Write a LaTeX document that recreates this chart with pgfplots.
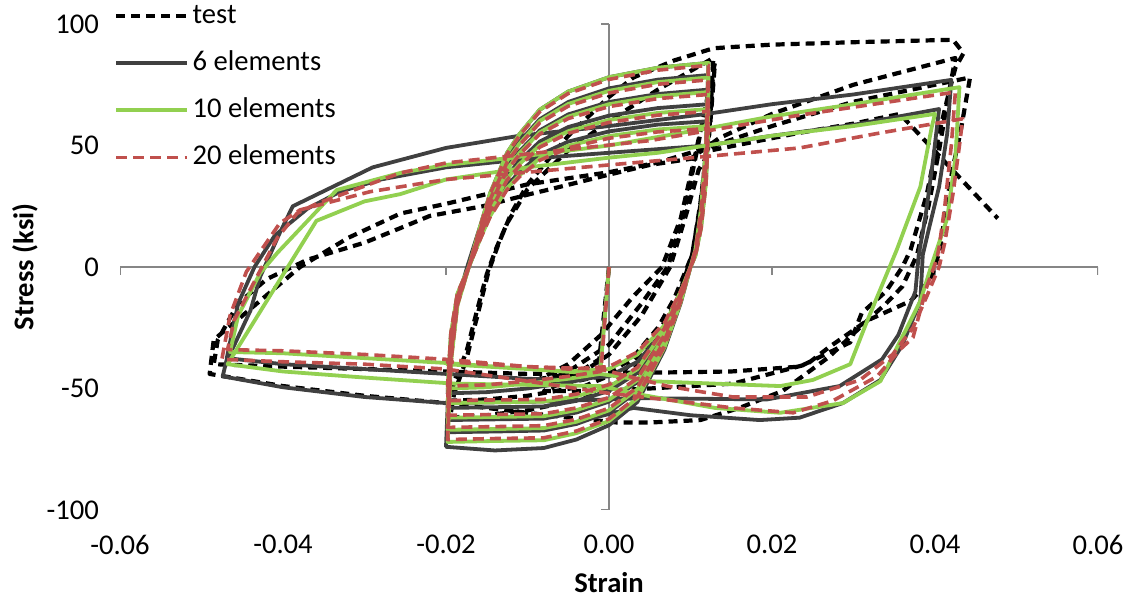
\documentclass[border=0pt]{standalone}
\usepackage{fontspec}
\setmainfont{Carlito}
\usepackage{pgfplots}
\pgfplotsset{compat=1.18}
\definecolor{gray6}{RGB}{64,64,64}
\definecolor{green10}{RGB}{146,208,80}
\definecolor{red20}{RGB}{192,80,77}
\definecolor{axgray}{RGB}{134,134,134}
\newcommand{\fs}{\fontsize{14.3}{16}\selectfont}
\begin{document}
\begin{tikzpicture}
\begin{axis}[
 scale only axis, width=489pt, height=243pt,
 xmin=-0.06, xmax=0.06, ymin=-100, ymax=100,
 axis x line*=bottom, axis y line*=left,
 axis line style={draw=none},
 major tick style={draw=none},
 scaled x ticks=false, scaled y ticks=false,
 xtick={-0.06,-0.04,-0.02,0,0.02,0.04,0.06},
 xticklabels={-0.06,-0.04,-0.02,0.00,0.02,0.04,0.06},
 ytick={-100,-50,0,50,100},
 yticklabels={-100,-50,0,50,100},
 ticklabel style={font=\fs},
 xticklabel style={yshift=-9pt},
 yticklabel style={xshift=-7pt},
 legend style={draw=none, fill=none, at={(axis description cs:0,1)}, anchor=north west,
   xshift=-3pt, yshift=12.5pt, font=\fs, row sep=6.5pt, inner sep=0pt,
   nodes={text height=10pt, text depth=3pt, inner sep=2pt}},
 legend cell align=left,
 legend image code/.code={\draw[#1] (0pt,0pt) -- (35pt,0pt);},
 line join=round,
]
% axis lines at zero
\draw[axgray, line width=0.75pt] (axis cs:-0.06,0) -- (axis cs:0.06,0);
\draw[axgray, line width=0.75pt] (axis cs:0,-100) -- (axis cs:0,100);
\pgfplotsinvokeforeach{-0.06,-0.04,-0.02,0,0.02,0.04,0.06}{\draw[axgray, line width=0.75pt] (axis cs:#1,0) -- ++(0pt,-4pt);}
\pgfplotsinvokeforeach{-100,-50,0,50,100}{\draw[axgray, line width=0.75pt] (axis cs:0,#1) -- ++(-4pt,0pt);}

% test
\addplot[black, line width=2.1pt, dash pattern=on 4.5pt off 3pt] coordinates {
(0,0) (-0.0012,-38) (-0.004,-44) (-0.0085,-46)
(-0.005,-40) (-0.001,-28) (0.003,-12) (0.0065,0) (0.0088,20) (0.0105,45) (0.012,68) (0.0128,78)
(0.0122,50) (0.0112,22) (0.0102,5) (0.0096,0) (0.008,-13) (0.006,-25) (0.003,-37) (0,-44) (-0.004,-47) (-0.009,-49)
(-0.005,-43) (0,-32) (0.004,-15) (0.0072,0) (0.0092,22) (0.0108,48) (0.0122,72) (0.013,84)
(0.0124,58) (0.0112,25) (0.0102,5) (0.0097,0) (0.0082,-15) (0.0055,-30) (0.002,-42) (-0.003,-49) (-0.01,-53) (-0.015,-54.5) (-0.0195,-55)
(-0.019,-47) (-0.0175,-35) (-0.0162,-18) (-0.015,-3) (-0.0138,8) (-0.0125,18) (-0.01,32) (-0.005,48) (0,60) (0.006,73) (0.0128,86)
(0.0124,60) (0.0112,26) (0.0102,5) (0.0097,0) (0.0082,-16) (0.0055,-33) (0.002,-46) (-0.003,-54) (-0.01,-59) (-0.015,-61) (-0.0195,-62)
(-0.019,-52) (-0.0175,-38) (-0.016,-18) (-0.0148,-2) (-0.0135,10) (-0.012,22) (-0.01,34) (-0.005,54) (0,70) (0.003,78) (0.008,85) (0.0128,90)
(0.015,90.5) (0.02,91.5) (0.03,92.5) (0.0422,93.5) (0.0435,88)
(0.0425,82) (0.0415,69) (0.0405,55) (0.039,30) (0.037,7) (0.036,0) (0.034,-10) (0.031,-19) (0.0296,-31) (0.0234,-41) (0.015,-43) (0.005,-43.5) (0,-43.6) (-0.01,-44) (-0.02,-43) (-0.03,-42) (-0.04,-41) (-0.0485,-40)
(-0.048,-30) (-0.0455,-15) (-0.042,-5) (-0.037,3) (-0.03,10) (-0.0256,16) (-0.022,21) (-0.0155,25) (-0.0097,30) (-0.0072,32) (0,38) (0.005,42) (0.01,44.5) (0.0135,53) (0.02,63) (0.03,75) (0.0425,86)
(0.0415,68) (0.0405,48) (0.0392,25) (0.0378,5) (0.036,-8) (0.034,-15) (0.0317,-22) (0.027,-37) (0.0213,-51) (0.016,-58) (0.0112,-63) (0.005,-64) (0.001,-64) (-0.005,-62) (-0.01,-60) (-0.02,-56) (-0.03,-53) (-0.04,-49) (-0.049,-44)
(-0.0485,-30) (-0.0432,-15) (-0.0379,0) (-0.032,12) (-0.0256,22) (-0.02,26) (-0.01,34) (0,39) (0.006,43) (0.012,49) (0.02,58) (0.03,68) (0.0443,78)
(0.0431,55) (0.0422,41) (0.0415,28) (0.0406,7) (0.0395,-5) (0.037,-14) (0.0317,-22) (0.027,-33) (0.0243,-40) (0.0152,-48) (0.005,-50) (-0.0011,-51) (-0.008,-51)
(-0.004,-45) (0,-36) (0.004,-20) (0.0075,0) (0.0095,22) (0.011,40) (0.0125,48) (0.017,51) (0.023,55) (0.03,59) (0.0357,63) (0.0477,20)
};
\addlegendentry{test}

% 6 elements
\addplot[gray6, line width=1.9pt] coordinates {
(0,0) (-0.0012,-45) (-0.005,-47.5) (-0.01,-50) (-0.015,-51.5) (-0.0198,-52)
(-0.0194,-28.6) (-0.0186,-11.4) (-0.0172,0) (-0.0158,12) (-0.0146,21.6) (-0.0125,33.6) (-0.011,39) (-0.0085,46.2) (-0.005,51.6) (0,55.8) (0.006,58.6) (0.0122,60)
(0.0119,36) (0.0113,16.8) (0.0106,4.8) (0.0100,0) (0.0088,-11.6) (0.0068,-26.7) (0.0035,-43.5) (0,-51) (-0.004,-55.1) (-0.008,-57.4) (-0.014,-57.7) (-0.0198,-58)
(-0.0194,-31.9) (-0.0186,-12.8) (-0.0172,0) (-0.0158,13.4) (-0.0146,24.1) (-0.0125,37.5) (-0.011,43.6) (-0.0085,51.6) (-0.005,57.6) (0,62.3) (0.006,65.4) (0.0122,67)
(0.0119,40.2) (0.0113,18.8) (0.0106,5.4) (0.0100,0) (0.0088,-12.6) (0.0068,-29) (0.0035,-47.3) (0,-55.4) (-0.004,-59.9) (-0.008,-62.4) (-0.014,-62.7) (-0.0198,-63)
(-0.0194,-34.7) (-0.0186,-13.9) (-0.0172,0) (-0.0158,14.6) (-0.0146,26.3) (-0.0125,40.9) (-0.011,47.5) (-0.0085,56.2) (-0.005,62.8) (0,67.9) (0.006,71.2) (0.0122,73)
(0.0119,43.8) (0.0113,20.4) (0.0106,5.8) (0.0100,0) (0.0088,-13.6) (0.0068,-31.3) (0.0035,-51) (0,-59.8) (-0.004,-64.6) (-0.008,-67.3) (-0.014,-67.7) (-0.0198,-68)
(-0.0194,-37.4) (-0.0186,-15) (-0.0172,0) (-0.0158,15.8) (-0.0146,28.4) (-0.0125,44.2) (-0.011,51.4) (-0.0085,60.8) (-0.005,67.9) (0,73.5) (0.006,77.1) (0.0122,79)
(0.0119,47.4) (0.0113,22.1) (0.0106,6.3) (0.0100,0) (0.0088,-14.8) (0.0068,-34) (0.0035,-55.5) (0,-65.1) (-0.004,-71) (-0.008,-74.5) (-0.014,-75.5) (-0.0200,-74)
(-0.0196,-40.7) (-0.0188,-16.3) (-0.0174,0) (-0.0158,16.8) (-0.0146,30.2) (-0.0125,47) (-0.011,54.6) (-0.0085,64.7) (-0.005,72.2) (0,78.1) (0.006,82) (0.0122,84)
(0.0119,50) (0.0113,24) (0.0106,7) (0.0100,0) (0.0088,-11) (0.0068,-26) (0.0035,-39) (0,-45) (-0.005,-46.5) (-0.01,-46) (-0.02,-44) (-0.03,-42) (-0.04,-40) (-0.0469,-37.5)
(-0.0455,-15) (-0.0435,0) (-0.041,13) (-0.037,24) (-0.033,31) (-0.028,36) (-0.02,41) (-0.01,44.5) (0,47) (0.012,50) (0.02,54) (0.03,58.5) (0.0405,65)
(0.0398,45) (0.0388,20) (0.038,5) (0.0376,-10) (0.0355,-28) (0.0335,-38) (0.0283,-49) (0.0194,-54.5) (0.0042,-54) (0,-54.5) (-0.01,-55.5) (-0.02,-56) (-0.03,-53.5) (-0.04,-49.5) (-0.0474,-45)
(-0.0469,-38) (-0.0461,-33) (-0.044,-18) (-0.0428,-4) (-0.0404,14) (-0.0388,25) (-0.029,41) (-0.02,49) (-0.011,54) (0,58) (0.012,63) (0.02,67) (0.03,71) (0.042,77)
(0.0415,55) (0.0405,33) (0.0392,15) (0.0385,5) (0.0382,-14) (0.036,-32) (0.0333,-46.5) (0.0287,-56) (0.0234,-62) (0.0185,-63) (0.01,-61) (0.003,-58) (-0.003,-63)
};
\addlegendentry{6 elements}

% 10 elements
\addplot[green10, line width=1.9pt] coordinates {
(0,0) (-0.0011,-44) (-0.005,-46) (-0.01,-48) (-0.015,-49.5) (-0.0198,-50)
(-0.0194,-27.5) (-0.0186,-11) (-0.0172,0) (-0.0158,11.6) (-0.0146,20.9) (-0.0125,32.5) (-0.011,37.7) (-0.0085,44.7) (-0.005,49.9) (0,53.9) (0.006,56.6) (0.0122,58)
(0.0119,34.8) (0.0113,16.2) (0.0106,4.6) (0.0100,0) (0.0088,-11.2) (0.0068,-25.8) (0.0035,-42) (0,-49.3) (-0.004,-53.2) (-0.008,-55.4) (-0.014,-55.7) (-0.0198,-56)
(-0.0194,-30.8) (-0.0186,-12.3) (-0.0172,0) (-0.0158,13) (-0.0146,23.4) (-0.0125,36.4) (-0.011,42.3) (-0.0085,50.1) (-0.005,55.9) (0,60.5) (0.006,63.4) (0.0122,65)
(0.0119,39) (0.0113,18.2) (0.0106,5.2) (0.0100,0) (0.0088,-12.4) (0.0068,-28.5) (0.0035,-46.5) (0,-54.6) (-0.004,-58.9) (-0.008,-61.4) (-0.014,-61.7) (-0.0198,-62)
(-0.0194,-34.1) (-0.0186,-13.6) (-0.0172,0) (-0.0158,14.4) (-0.0146,25.9) (-0.0125,40.3) (-0.011,46.8) (-0.0085,55.4) (-0.005,61.9) (0,67) (0.006,70.3) (0.0122,72)
(0.0119,43.2) (0.0113,20.2) (0.0106,5.8) (0.0100,0) (0.0088,-13.4) (0.0068,-30.8) (0.0035,-50.3) (0,-59) (-0.004,-63.7) (-0.008,-66.3) (-0.014,-66.7) (-0.0198,-67)
(-0.0194,-36.9) (-0.0186,-14.7) (-0.0172,0) (-0.0158,15.6) (-0.0146,28.1) (-0.0125,43.7) (-0.011,50.7) (-0.0085,60.1) (-0.005,67.1) (0,72.5) (0.006,76.1) (0.0122,78)
(0.0119,46.8) (0.0113,21.8) (0.0106,6.2) (0.0100,0) (0.0088,-14.4) (0.0068,-33.1) (0.0035,-54) (0,-63.4) (-0.004,-68.4) (-0.008,-71.3) (-0.014,-71.6) (-0.0198,-72)
(-0.0194,-39.6) (-0.0186,-15.8) (-0.0172,0) (-0.0158,16.8) (-0.0146,30.2) (-0.0125,47) (-0.011,54.6) (-0.0085,64.7) (-0.005,72.2) (0,78.1) (0.006,82) (0.0122,84)
(0.0119,50) (0.0113,24) (0.0106,7) (0.0100,0) (0.0088,-10) (0.0068,-24) (0.0035,-36) (0,-42) (-0.005,-43) (-0.01,-42) (-0.02,-39.5) (-0.03,-37.5) (-0.04,-35.5) (-0.0465,-35)
(-0.0455,-20) (-0.0428,-2.5) (-0.0407,5.8) (-0.0334,31.7) (-0.0256,38.7) (-0.02,42) (-0.0118,45) (0,50) (0.012,57) (0.02,62) (0.03,67) (0.043,74)
(0.0425,45) (0.0415,20) (0.0402,7) (0.0395,0) (0.0382,-14) (0.0355,-32) (0.0333,-47) (0.0287,-56) (0.021,-60) (0.013,-58) (0.003,-52) (-0.001,-49) (-0.01,-48.5) (-0.019,-48) (-0.03,-45.5) (-0.04,-43) (-0.0468,-40)
(-0.0359,19) (-0.03,27) (-0.0256,30) (-0.02,36) (-0.01,41) (0,45) (0.006,47) (0.012,50) (0.02,54) (0.03,58) (0.040,63)
(0.0396,57.6) (0.0382,33) (0.0353,7) (0.0317,-22) (0.0296,-40) (0.025,-46.5) (0.021,-49) (0.005,-47) (-0.0011,-44) (-0.01,-42) (-0.02,-40)
};
\addlegendentry{10 elements}

% 20 elements
\addplot[red20, line width=1.8pt, dash pattern=on 5.5pt off 3pt] coordinates {
(0,0) (-0.001,-43) (-0.005,-45) (-0.01,-47) (-0.015,-48.5) (-0.0198,-49)
(-0.0194,-27) (-0.0186,-10.8) (-0.0172,0) (-0.0158,11.4) (-0.0146,20.5) (-0.0125,31.9) (-0.011,37.1) (-0.0085,43.9) (-0.005,49) (0,53) (0.006,55.6) (0.0122,57)
(0.0119,34.2) (0.0113,16) (0.0106,4.6) (0.0100,0) (0.0088,-11) (0.0068,-25.3) (0.0035,-41.3) (0,-48.4) (-0.004,-52.3) (-0.008,-54.5) (-0.014,-54.7) (-0.0198,-55)
(-0.0194,-30.3) (-0.0186,-12.1) (-0.0172,0) (-0.0158,12.8) (-0.0146,23) (-0.0125,35.8) (-0.011,41.6) (-0.0085,49.3) (-0.005,55) (0,59.5) (0.006,62.5) (0.0122,64)
(0.0119,38.4) (0.0113,17.9) (0.0106,5.1) (0.0100,0) (0.0088,-12.2) (0.0068,-28.1) (0.0035,-45.8) (0,-53.7) (-0.004,-58) (-0.008,-60.4) (-0.014,-60.7) (-0.0198,-61)
(-0.0194,-33.6) (-0.0186,-13.4) (-0.0172,0) (-0.0158,14.2) (-0.0146,25.6) (-0.0125,39.8) (-0.011,46.2) (-0.0085,54.7) (-0.005,61.1) (0,66) (0.006,69.3) (0.0122,71)
(0.0119,42.6) (0.0113,19.9) (0.0106,5.7) (0.0100,0) (0.0088,-13.2) (0.0068,-30.4) (0.0035,-49.5) (0,-58.1) (-0.004,-62.7) (-0.008,-65.3) (-0.014,-65.7) (-0.0198,-66)
(-0.0194,-36.3) (-0.0186,-14.5) (-0.0172,0) (-0.0158,15.4) (-0.0146,27.7) (-0.0125,43.1) (-0.011,50.1) (-0.0085,59.3) (-0.005,66.2) (0,71.6) (0.006,75.2) (0.0122,77)
(0.0119,46.2) (0.0113,21.6) (0.0106,6.2) (0.0100,0) (0.0088,-14.2) (0.0068,-32.7) (0.0035,-53.3) (0,-62.5) (-0.004,-67.5) (-0.008,-70.3) (-0.014,-70.6) (-0.0198,-71)
(-0.0194,-39.1) (-0.0186,-15.6) (-0.0172,0) (-0.0158,16.6) (-0.0146,29.9) (-0.0125,46.5) (-0.011,54) (-0.0085,63.9) (-0.005,71.4) (0,77.2) (0.006,81) (0.0122,83)
(0.0119,50) (0.0113,23) (0.0106,7) (0.0100,0) (0.0088,-10) (0.0068,-23) (0.0035,-35) (0,-41) (-0.005,-42) (-0.01,-41) (-0.02,-38) (-0.03,-36) (-0.04,-34.5) (-0.0468,-34)
(-0.046,-22) (-0.0432,-4) (-0.0407,12) (-0.0383,22) (-0.0359,26) (-0.0256,38.7) (-0.02,42.8) (-0.006,48) (0.005,52) (0.012,56) (0.0234,62.5) (0.0325,67) (0.0425,72)
(0.042,50) (0.0412,25) (0.0405,8) (0.0402,3) (0.039,-8) (0.0373,-29) (0.0357,-34) (0.0329,-45) (0.0275,-55) (0.0226,-60) (0.0152,-58) (0.008,-55) (0,-52) (-0.01,-47) (-0.02,-42) (-0.03,-40) (-0.04,-39) (-0.0475,-38)
(-0.0465,-20) (-0.0445,-2) (-0.0404,18) (-0.0379,23.5) (-0.0293,31) (-0.02,36) (-0.01,39) (0,42) (0.012,45.5) (0.0234,49) (0.033,55) (0.0434,61)
(0.043,50) (0.0422,30) (0.0412,10) (0.0405,0) (0.039,-12) (0.0373,-25) (0.0348,-36) (0.0308,-46.5) (0.0243,-53.5) (0.0152,-53.5) (0.0071,-49) (-0.0011,-42) (-0.01,-41) (-0.02,-39)
};
\addlegendentry{20 elements}
\end{axis}
\node[font=\bfseries\fs] at (244.5pt,-36.5pt) {Strain};
\node[font=\bfseries\fs, rotate=90] at (-47.5pt,121.5pt) {Stress (ksi)};
\pgfresetboundingbox
\path[use as bounding box] (-60pt,-46.5pt) rectangle (507.5pt,255pt);
\end{tikzpicture}
\end{document}
